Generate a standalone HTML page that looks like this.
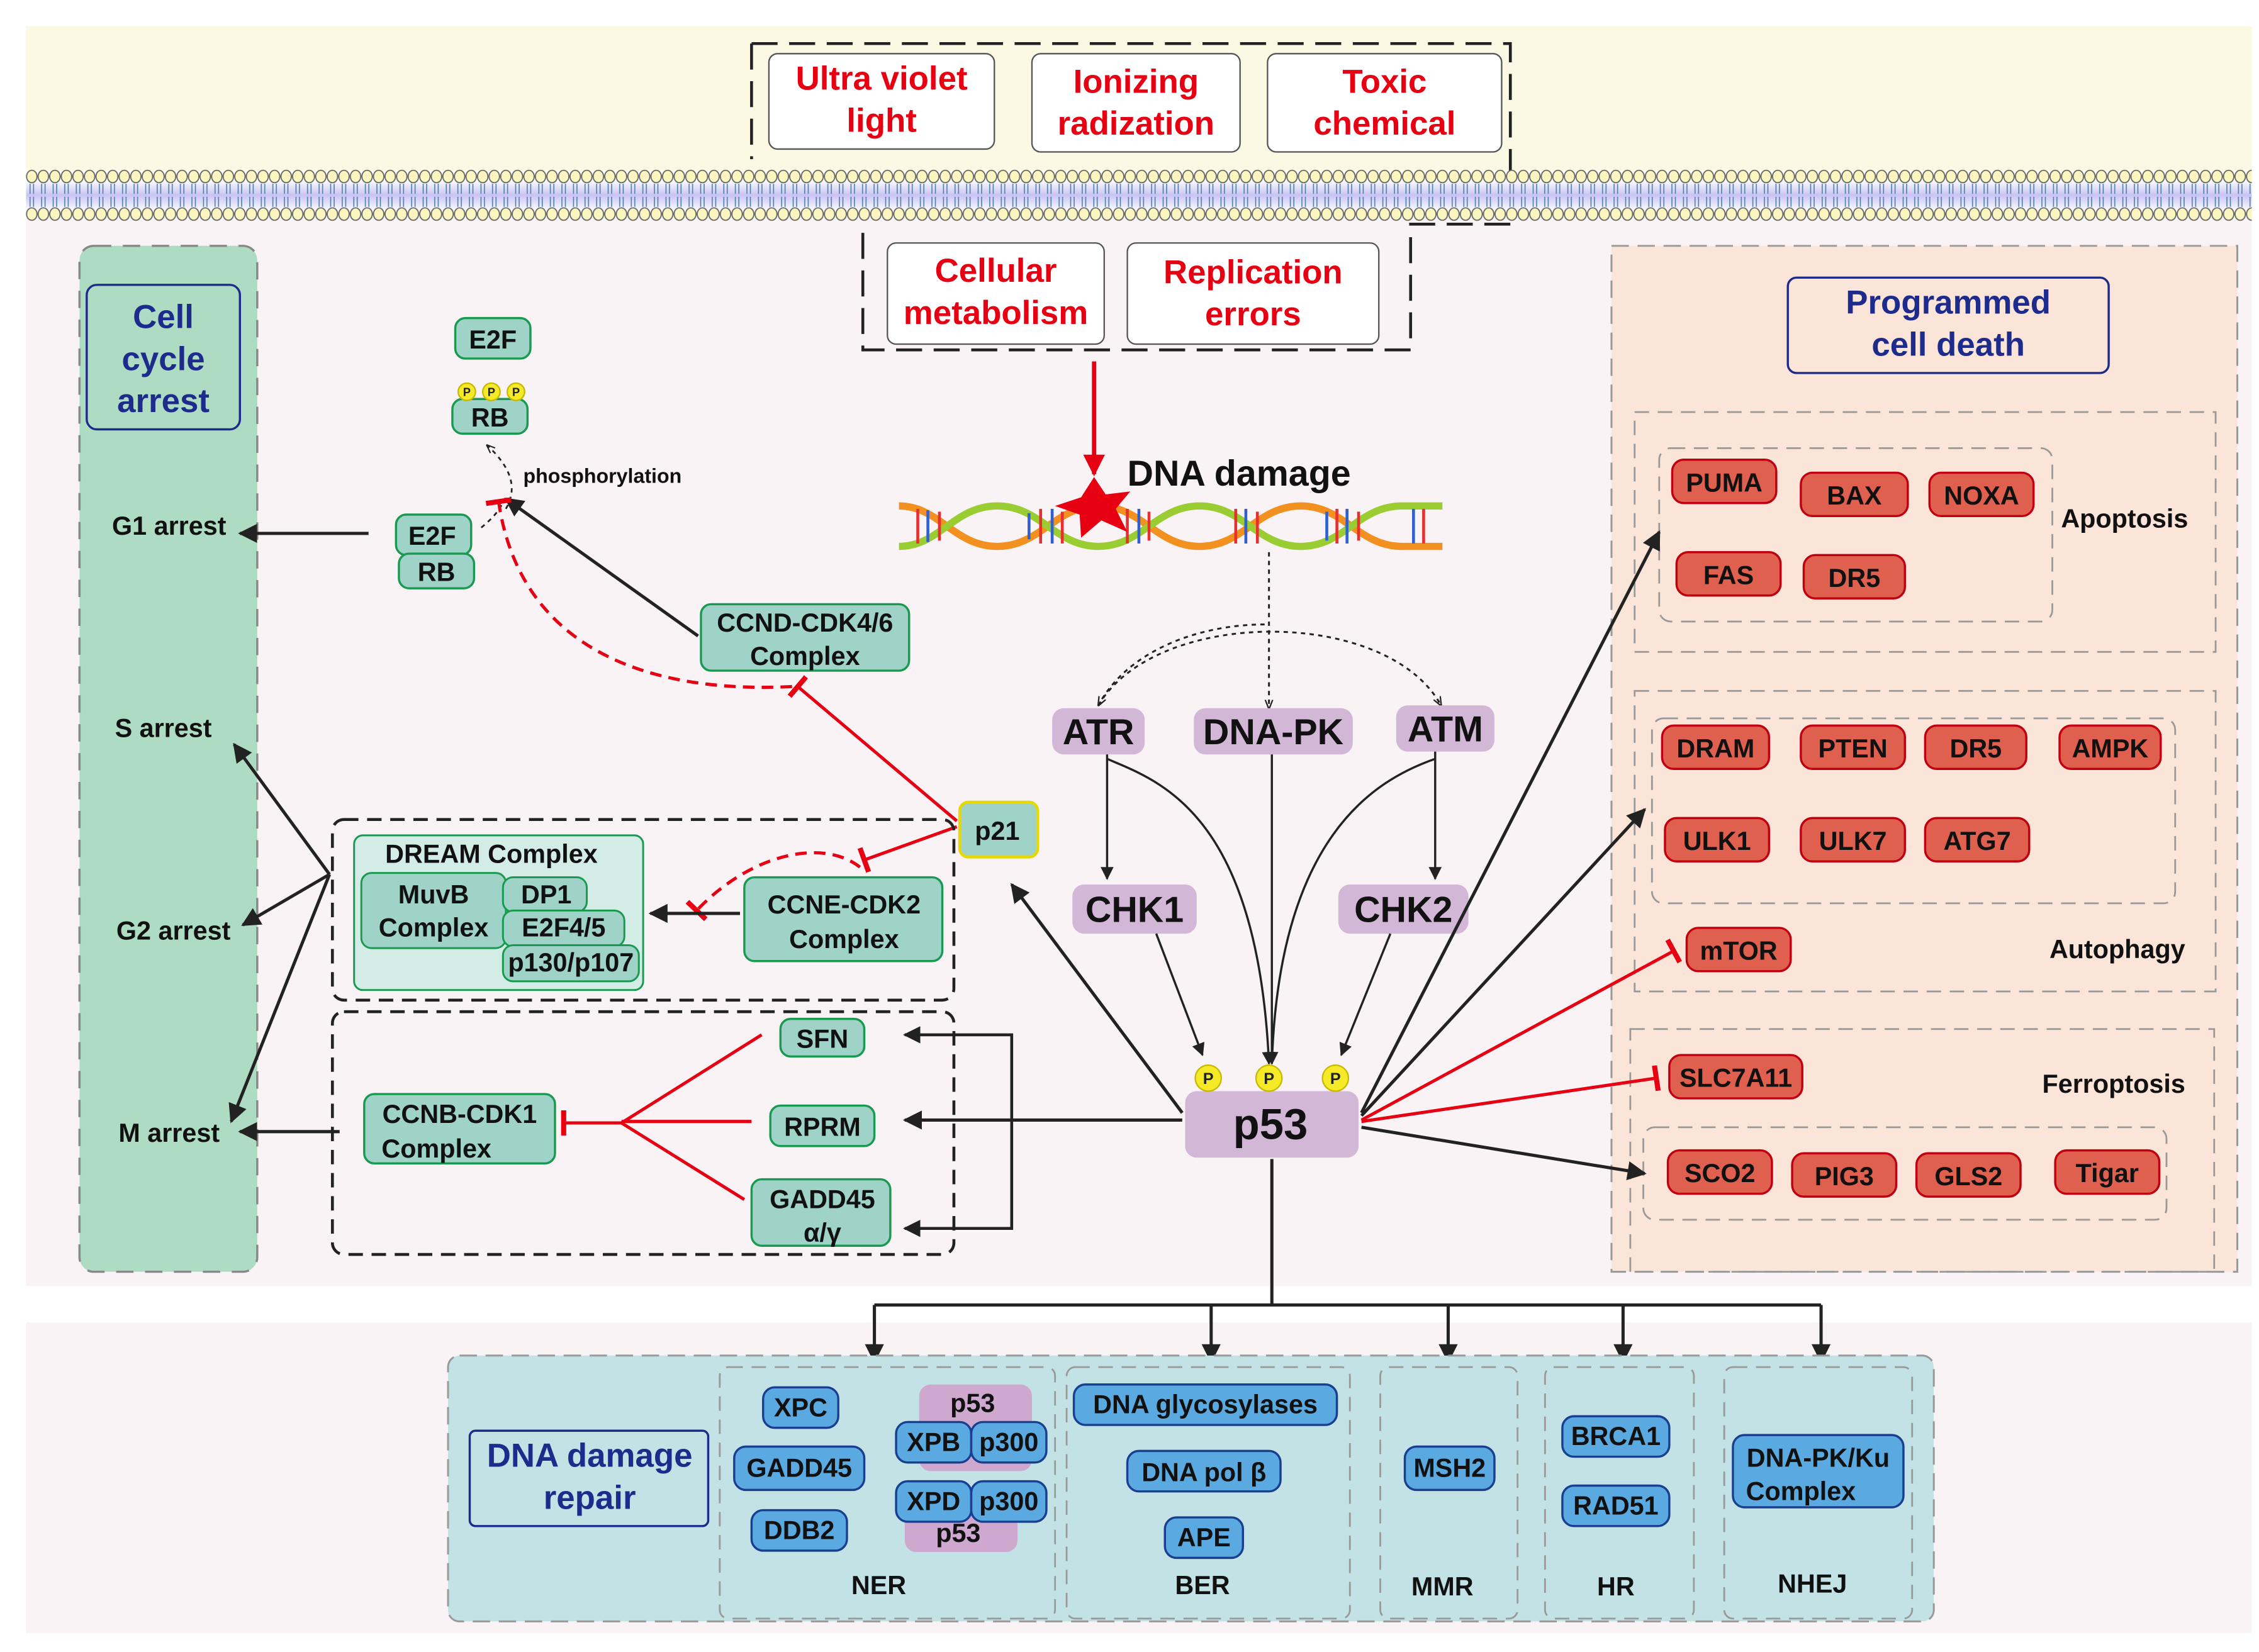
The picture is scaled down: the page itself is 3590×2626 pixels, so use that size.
<!DOCTYPE html>
<html><head><meta charset="utf-8"><style>
html,body{margin:0;padding:0;background:#fff}
svg{display:block}
text{font-family:"Liberation Sans",Arial,sans-serif;font-weight:bold}
</style></head><body>
<svg width="3590" height="2626" viewBox="0 0 1563 1143" xmlns="http://www.w3.org/2000/svg">
<defs>
<pattern id="memA" x="18" y="117" width="8" height="10" patternUnits="userSpaceOnUse">
<ellipse cx="4" cy="5" rx="3.6" ry="4.3" fill="#fbf6c0" stroke="#666" stroke-width="0.8"/>
</pattern>
<pattern id="memB" x="18" y="143" width="8" height="10" patternUnits="userSpaceOnUse">
<ellipse cx="4" cy="5" rx="3.6" ry="4.3" fill="#fbf6c0" stroke="#666" stroke-width="0.8"/>
</pattern>
<pattern id="tails" x="18" y="127" width="8" height="16" patternUnits="userSpaceOnUse">
<path d="M2.8,0 V7 M5.2,0 V7 M2.8,9 V16 M5.2,9 V16" stroke="#4a7fa8" stroke-width="0.7" fill="none"/>
</pattern>
<linearGradient id="core" x1="0" y1="0" x2="0" y2="1"><stop offset="0" stop-color="#fff"/><stop offset="0.5" stop-color="#c8c4f4"/><stop offset="1" stop-color="#fff"/></linearGradient>
<marker id="ab" viewBox="0 0 10 10" refX="9" refY="5" markerWidth="6" markerHeight="6" orient="auto-start-reverse"><path d="M0,0 L10,5 L0,10 z" fill="#222"/></marker>
<marker id="as" viewBox="0 0 10 10" refX="9" refY="5" markerWidth="5" markerHeight="5" orient="auto"><path d="M0,1 L10,5 L0,9" fill="none" stroke="#222" stroke-width="1.5"/></marker>
<marker id="ar" viewBox="0 0 10 10" refX="9" refY="5" markerWidth="5" markerHeight="5" orient="auto"><path d="M0,0 L10,5 L0,10 z" fill="#e60012"/></marker>
<marker id="tr" viewBox="0 0 4 20" refX="2" refY="10" markerWidth="3" markerHeight="8" orient="auto"><rect x="0" y="0" width="4" height="20" fill="#e60012"/></marker>
</defs>
<!-- backgrounds -->
<rect x="18" y="18" width="1540" height="100" fill="#fbf8e4"/>
<rect x="18" y="150" width="1540" height="740" fill="#f9f3f6"/>
<rect x="18" y="915" width="1540" height="215" fill="#f9f3f6"/>
<!-- stimuli dashed box -->
<path d="M520,30 V110 M520,30 H1045 V155 H976 V242 H597 V160" fill="none" stroke="#222" stroke-width="2" stroke-dasharray="18 8"/>
<!-- membrane -->
<rect x="18" y="124" width="1540" height="22" fill="url(#core)"/>
<rect x="18" y="127" width="1540" height="16" fill="url(#tails)"/>
<rect x="18" y="117" width="1540" height="10" fill="url(#memA)"/>
<rect x="18" y="143" width="1540" height="10" fill="url(#memB)"/>
<g fill="#fff" stroke="#555" stroke-width="1">
<rect x="532" y="37" width="156" height="66" rx="6"/>
<rect x="714" y="37" width="144" height="68" rx="6"/>
<rect x="877" y="37" width="162" height="68" rx="6"/>
<rect x="614" y="168" width="150" height="70" rx="6"/>
<rect x="780" y="168" width="174" height="70" rx="6"/>
</g>
<g fill="#e60012" font-size="23" text-anchor="middle">
<text x="610" y="62">Ultra violet</text><text x="610" y="91">light</text>
<text x="786" y="64">Ionizing</text><text x="786" y="93">radization</text>
<text x="958" y="64">Toxic</text><text x="958" y="93">chemical</text>
<text x="689" y="195">Cellular</text><text x="689" y="224">metabolism</text>
<text x="867" y="196">Replication</text><text x="867" y="225">errors</text>
</g>
<line x1="757" y1="250" x2="757" y2="328" stroke="#e60012" stroke-width="3" marker-end="url(#ar)"/>
<!-- DNA -->
<g stroke-width="5" fill="none">
<path d="M622,350 C650,350 660,378 690,378 S730,350 760,350 S800,378 830,378 S870,350 900,350 S940,378 970,378 L998,378" stroke="#f29020"/>
<path d="M622,378 C650,378 660,350 690,350 S730,378 760,378 S800,350 830,350 S870,378 900,378 S940,350 970,350 L998,350" stroke="#9acd32"/>
</g>
<g stroke-width="2">
<path d="M635,352 v24 M650,354 v20 M720,352 v24 M735,354 v22 M780,352 v24 M795,354 v20 M855,352 v24 M870,354 v22 M925,352 v24 M940,354 v20 M985,352 v24" stroke="#e63030"/>
<path d="M642,353 v22 M712,355 v18 M728,352 v24 M788,352 v24 M862,352 v24 M918,354 v20 M932,352 v24 M978,352 v24" stroke="#3060d0"/>
</g>
<polygon points="757,330 765,342 782,340 772,352 780,368 762,360 748,372 747,356 730,350 748,344" fill="#e60012"/>
<text x="780" y="336" font-size="25" fill="#111">DNA damage</text>
<!-- kinases -->
<path d="M878,382 V490" stroke="#222" stroke-width="1.3" stroke-dasharray="3 3" marker-end="url(#as)"/>
<path d="M760,488 C800,420 960,420 997,488" fill="none" stroke="#222" stroke-width="1.3" stroke-dasharray="3 3" marker-end="url(#as)"/>
<path d="M875,432 C830,432 780,450 760,488" fill="none" stroke="#222" stroke-width="1.3" stroke-dasharray="3 3" marker-end="url(#as)"/>
<g fill="#d2b7d6"><rect x="728" y="490" width="64" height="32" rx="8"/><rect x="826" y="490" width="110" height="32" rx="8"/><rect x="966" y="488" width="68" height="32" rx="8"/>
<rect x="742" y="612" width="86" height="34" rx="8"/><rect x="926" y="612" width="90" height="34" rx="8"/>
<rect x="820" y="755" width="120" height="46" rx="8"/></g>
<g font-size="25" text-anchor="middle" fill="#111">
<text x="760" y="515">ATR</text><text x="881" y="515">DNA-PK</text><text x="1000" y="513">ATM</text>
<text x="785" y="638">CHK1</text><text x="971" y="638">CHK2</text>
<text x="879" y="788" font-size="30">p53</text></g>
<g fill="none" stroke="#222" stroke-width="1.5">
<path d="M766,522 V608" marker-end="url(#ab)"/>
<path d="M993,520 V608" marker-end="url(#ab)"/>
<path d="M880,522 V736" marker-end="url(#ab)"/>
<path d="M766,525 C800,540 870,560 878,736" marker-end="url(#ab)"/>
<path d="M993,525 C950,540 885,580 880,736"/>
<path d="M800,646 L832,730" marker-end="url(#ab)"/>
<path d="M962,646 L928,730" marker-end="url(#ab)"/>
</g>
<g fill="#f5ea28" stroke="#c8b800" stroke-width="1"><circle cx="836" cy="746" r="9"/><circle cx="878" cy="746" r="9"/><circle cx="924" cy="746" r="9"/></g>
<g font-size="11" text-anchor="middle" fill="#222"><text x="836" y="750">P</text><text x="878" y="750">P</text><text x="924" y="750">P</text></g>
<!-- left cell cycle column -->
<rect x="55" y="170" width="123" height="710" rx="10" fill="#aedcc2" stroke="#888" stroke-width="1.5" stroke-dasharray="12 8"/>
<rect x="60" y="197" width="106" height="100" rx="7" fill="#aedcc2" stroke="#1d2c8c" stroke-width="1.5"/>
<g fill="#1d2c8c" font-size="23" text-anchor="middle"><text x="113" y="227">Cell</text><text x="113" y="256">cycle</text><text x="113" y="285">arrest</text></g>
<g font-size="18" fill="#111" text-anchor="middle"><text x="117" y="370">G1 arrest</text><text x="113" y="510">S arrest</text><text x="120" y="650">G2 arrest</text><text x="117" y="790">M arrest</text></g>
<g fill="none" stroke="#222" stroke-width="2.2" marker-end="url(#ab)">
<path d="M255,369 H166"/>
<path d="M228,605 L162,515"/><path d="M228,605 L168,640"/><path d="M228,605 L160,776"/>
<path d="M235,783 H166"/>
</g>
<!-- E2F/RB -->
<g fill="#9fd3c7" stroke="#1a9a50" stroke-width="1.5">
<rect x="315" y="220" width="52" height="28" rx="7"/><rect x="313" y="276" width="52" height="24" rx="7"/>
<rect x="274" y="356" width="52" height="28" rx="7"/><rect x="276" y="383" width="52" height="24" rx="7"/>
<rect x="485" y="418" width="144" height="46" rx="7"/>
<rect x="515" y="607" width="137" height="58" rx="7"/>
<rect x="252" y="757" width="132" height="48" rx="7"/>
<rect x="540" y="705" width="58" height="26" rx="7"/><rect x="533" y="765" width="72" height="28" rx="7"/>
<rect x="520" y="816" width="96" height="46" rx="7"/>
</g>
<g fill="#f5ea28" stroke="#c8b800"><circle cx="323" cy="271" r="6"/><circle cx="340" cy="271" r="6"/><circle cx="357" cy="271" r="6"/></g>
<g font-size="8" text-anchor="middle" fill="#222"><text x="323" y="274">P</text><text x="340" y="274">P</text><text x="357" y="274">P</text></g>
<g font-size="18" text-anchor="middle" fill="#111">
<text x="341" y="241">E2F</text><text x="339" y="295">RB</text><text x="299" y="377">E2F</text><text x="302" y="402">RB</text>
<text x="557" y="437">CCND-CDK4/6</text><text x="557" y="460">Complex</text>
<text x="584" y="632">CCNE-CDK2</text><text x="584" y="656">Complex</text>
<text x="318" y="777">CCNB-CDK1</text><text x="302" y="801">Complex</text>
<text x="569" y="725">SFN</text><text x="569" y="786">RPRM</text><text x="569" y="836">GADD45</text><text x="569" y="859">α/γ</text>
</g>
<text x="362" y="334" font-size="14" fill="#111">phosphorylation</text>
<path d="M350,352 C360,335 350,320 337,308" fill="none" stroke="#222" stroke-width="1.2" stroke-dasharray="3 3" marker-end="url(#as)"/>
<path d="M333,365 C345,355 345,352 350,345" fill="none" stroke="#222" stroke-width="1.2" stroke-dasharray="3 3"/>
<path d="M483,440 L350,345" stroke="#222" stroke-width="2.2" marker-end="url(#ab)"/>
<path d="M548,475 C450,480 360,450 345,347" fill="none" stroke="#e60012" stroke-width="2.2" stroke-dasharray="8 5" marker-end="url(#tr)"/>
<!-- p21 -->
<rect x="664" y="555" width="54" height="38" rx="6" fill="#9fd3c7" stroke="#e8d800" stroke-width="2"/>
<text x="690" y="581" font-size="18" text-anchor="middle" fill="#111">p21</text>
<path d="M662,568 L552,475" stroke="#e60012" stroke-width="2.2" marker-end="url(#tr)"/>
<path d="M662,572 L598,595" stroke="#e60012" stroke-width="2.2" marker-end="url(#tr)"/>
<path d="M595,600 C570,580 520,590 482,630" fill="none" stroke="#e60012" stroke-width="2.2" stroke-dasharray="8 5" marker-end="url(#tr)"/>
<path d="M818,770 L700,612" stroke="#222" stroke-width="2.2" marker-end="url(#ab)"/>
<!-- DREAM -->
<rect x="230" y="567" width="430" height="125" rx="8" fill="none" stroke="#222" stroke-width="2" stroke-dasharray="10 6"/>
<rect x="245" y="578" width="200" height="107" rx="6" fill="#d3ece6" stroke="#1a9a50" stroke-width="1.3"/>
<text x="340" y="597" font-size="18" text-anchor="middle" fill="#111">DREAM Complex</text>
<g fill="#9fd3c7" stroke="#1a9a50" stroke-width="1.3">
<rect x="250" y="604" width="100" height="52" rx="7"/><rect x="348" y="607" width="58" height="24" rx="7"/>
<rect x="348" y="630" width="84" height="25" rx="7"/><rect x="348" y="654" width="94" height="25" rx="7"/></g>
<g font-size="18" text-anchor="middle" fill="#111"><text x="300" y="625">MuvB</text><text x="300" y="648">Complex</text>
<text x="378" y="625">DP1</text><text x="390" y="648">E2F4/5</text><text x="395" y="672">p130/p107</text></g>
<path d="M512,632 H450" stroke="#222" stroke-width="2.2" marker-end="url(#ab)"/>
<!-- lower dashed -->
<rect x="230" y="700" width="430" height="168" rx="8" fill="none" stroke="#222" stroke-width="2" stroke-dasharray="10 6"/>
<path d="M818,775 H626" stroke="#222" stroke-width="2.2" marker-end="url(#ab)"/>
<path d="M700,775 V716 H626" fill="none" stroke="#222" stroke-width="2" marker-end="url(#ab)"/>
<path d="M700,775 V850 H626" fill="none" stroke="#222" stroke-width="2" marker-end="url(#ab)"/>
<g stroke="#e60012" stroke-width="2.2" fill="none"><path d="M527,716 L430,777 L515,830 M520,776 H430"/><path d="M430,777 H390" marker-end="url(#tr)"/></g>
<!-- right panel -->
<rect x="1115" y="170" width="433" height="710" fill="#fbe4d8" stroke="#999" stroke-width="1.3" stroke-dasharray="12 6"/>
<rect x="1237" y="192" width="222" height="66" rx="6" fill="#fbe4d8" stroke="#1d2c8c" stroke-width="1.5"/>
<g fill="#1d2c8c" font-size="23" text-anchor="middle"><text x="1348" y="217">Programmed</text><text x="1348" y="246">cell death</text></g>
<g fill="none" stroke="#999" stroke-width="1.2" stroke-dasharray="10 6">
<rect x="1131" y="285" width="402" height="166"/><rect x="1148" y="310" width="272" height="120" rx="8"/>
<rect x="1131" y="478" width="402" height="208"/><rect x="1143" y="497" width="362" height="128" rx="8"/>
<rect x="1128" y="712" width="404" height="168"/><rect x="1137" y="780" width="362" height="64" rx="8"/>
</g>
<g font-size="18" fill="#111"><text x="1426" y="365">Apoptosis</text><text x="1418" y="663">Autophagy</text><text x="1413" y="756">Ferroptosis</text></g>
<g fill="#e0604f" stroke="#c00010" stroke-width="1.5">
<rect x="1157" y="318" width="72" height="30" rx="8"/><rect x="1246" y="327" width="74" height="30" rx="8"/><rect x="1335" y="327" width="72" height="30" rx="8"/>
<rect x="1160" y="382" width="72" height="30" rx="8"/><rect x="1248" y="384" width="70" height="30" rx="8"/>
<rect x="1150" y="502" width="74" height="30" rx="8"/><rect x="1246" y="502" width="72" height="30" rx="8"/><rect x="1332" y="502" width="70" height="30" rx="8"/><rect x="1425" y="502" width="70" height="30" rx="8"/>
<rect x="1152" y="566" width="72" height="30" rx="8"/><rect x="1246" y="566" width="72" height="30" rx="8"/><rect x="1332" y="566" width="72" height="30" rx="8"/>
<rect x="1167" y="642" width="72" height="30" rx="8"/>
<rect x="1155" y="730" width="92" height="30" rx="8"/>
<rect x="1154" y="796" width="72" height="30" rx="8"/><rect x="1240" y="798" width="72" height="30" rx="8"/><rect x="1326" y="798" width="72" height="30" rx="8"/><rect x="1422" y="796" width="72" height="30" rx="8"/>
</g>
<g font-size="18" text-anchor="middle" fill="#111">
<text x="1193" y="340">PUMA</text><text x="1283" y="349">BAX</text><text x="1371" y="349">NOXA</text>
<text x="1196" y="404">FAS</text><text x="1283" y="406">DR5</text>
<text x="1187" y="524">DRAM</text><text x="1282" y="524">PTEN</text><text x="1367" y="524">DR5</text><text x="1460" y="524">AMPK</text>
<text x="1188" y="588">ULK1</text><text x="1282" y="588">ULK7</text><text x="1368" y="588">ATG7</text>
<text x="1203" y="664">mTOR</text><text x="1201" y="752">SLC7A11</text>
<text x="1190" y="818">SCO2</text><text x="1276" y="820">PIG3</text><text x="1362" y="820">GLS2</text><text x="1458" y="818">Tigar</text>
</g>
<g stroke="#222" stroke-width="2.2" marker-end="url(#ab)">
<path d="M942,770 L1148,368"/><path d="M942,772 L1138,560"/><path d="M942,780 L1138,812"/>
</g>
<g stroke="#e60012" stroke-width="2.2" marker-end="url(#tr)">
<path d="M942,775 L1158,658"/><path d="M942,776 L1146,746"/>
</g>
<!-- bottom repair -->
<path d="M880,802 V903 M605,903 H1260" fill="none" stroke="#222" stroke-width="2.2"/>
<g stroke="#222" stroke-width="2.2" marker-end="url(#ab)">
<path d="M605,903 V942"/><path d="M838,903 V942"/><path d="M1002,903 V942"/><path d="M1123,903 V942"/><path d="M1260,903 V942"/></g>
<rect x="310" y="938" width="1028" height="184" rx="8" fill="#c3e2e5" stroke="#999" stroke-width="1.3" stroke-dasharray="12 6"/>
<g fill="none" stroke="#999" stroke-width="1.2" stroke-dasharray="10 6">
<rect x="498" y="946" width="232" height="174" rx="6"/><rect x="738" y="946" width="196" height="174" rx="6"/>
<rect x="955" y="946" width="95" height="174" rx="6"/><rect x="1069" y="946" width="103" height="174" rx="6"/><rect x="1193" y="946" width="130" height="174" rx="6"/></g>
<rect x="325" y="990" width="165" height="66" rx="4" fill="#c3e2e5" stroke="#1d2c8c" stroke-width="1.5"/>
<g fill="#1d2c8c" font-size="23" text-anchor="middle"><text x="408" y="1015">DNA damage</text><text x="408" y="1044">repair</text></g>
<g fill="#cfa8cf"><rect x="636" y="958" width="78" height="60" rx="8"/><rect x="626" y="1030" width="78" height="44" rx="8"/></g>
<g fill="#5aa9e0" stroke="#1a3f90" stroke-width="1.5">
<rect x="528" y="960" width="52" height="28" rx="8"/><rect x="508" y="1001" width="90" height="30" rx="8"/><rect x="520" y="1045" width="66" height="28" rx="8"/>
<rect x="620" y="984" width="52" height="28" rx="8"/><rect x="672" y="984" width="52" height="28" rx="8"/>
<rect x="620" y="1025" width="52" height="28" rx="8"/><rect x="672" y="1025" width="52" height="28" rx="8"/>
<rect x="743" y="958" width="182" height="28" rx="8"/><rect x="780" y="1004" width="106" height="28" rx="8"/><rect x="806" y="1050" width="54" height="28" rx="8"/>
<rect x="972" y="1001" width="62" height="30" rx="8"/>
<rect x="1081" y="980" width="74" height="28" rx="8"/><rect x="1081" y="1028" width="74" height="28" rx="8"/>
<rect x="1199" y="993" width="118" height="50" rx="8"/></g>
<g font-size="18" text-anchor="middle" fill="#111">
<text x="554" y="980">XPC</text><text x="553" y="1022">GADD45</text><text x="553" y="1065">DDB2</text>
<text x="673" y="977">p53</text><text x="646" y="1004">XPB</text><text x="698" y="1004">p300</text>
<text x="646" y="1045">XPD</text><text x="698" y="1045">p300</text><text x="663" y="1067">p53</text>
<text x="834" y="978">DNA glycosylases</text><text x="833" y="1025">DNA pol β</text><text x="833" y="1070">APE</text>
<text x="1003" y="1022">MSH2</text><text x="1118" y="1000">BRCA1</text><text x="1118" y="1048">RAD51</text>
<text x="1258" y="1015">DNA-PK/Ku</text><text x="1246" y="1038">Complex</text>
<text x="608" y="1103">NER</text><text x="832" y="1103">BER</text><text x="998" y="1104">MMR</text><text x="1118" y="1104">HR</text><text x="1254" y="1102">NHEJ</text>
</g>
</svg>
</body></html>
